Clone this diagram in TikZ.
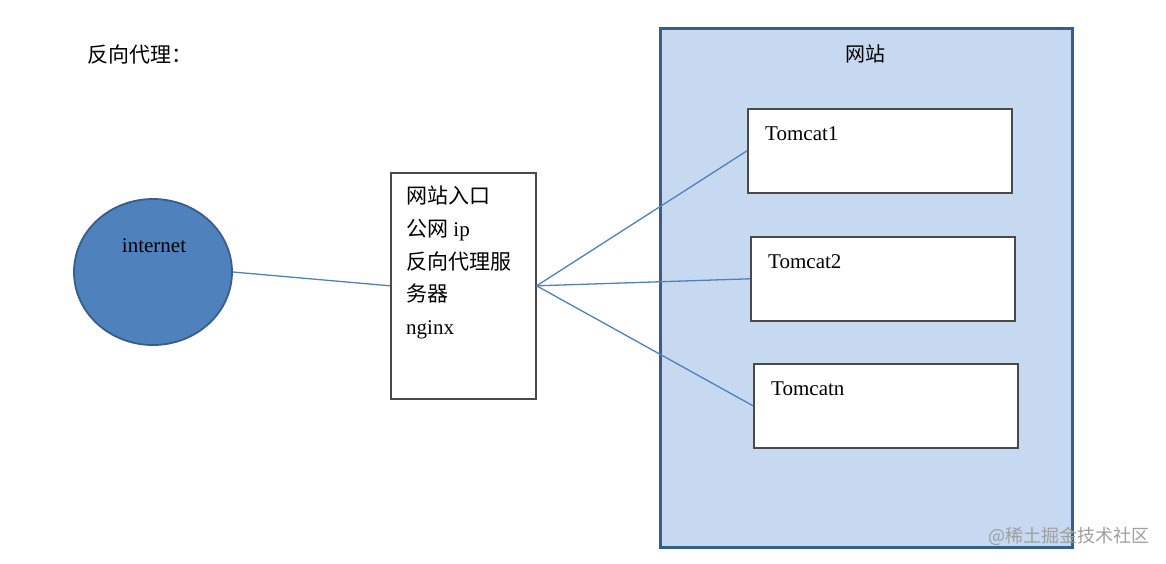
\documentclass[tikz,border=0pt]{standalone}
\usepackage{fontspec}
\setmainfont{Liberation Serif}
\newfontfamily\cjk{Noto Sans CJK SC}
\usetikzlibrary{shapes.geometric}
\definecolor{azul}{HTML}{4F81BD}
\definecolor{azulescuro}{HTML}{385D8A}
\definecolor{azulclaro}{HTML}{C6D9F1}
\definecolor{borda}{HTML}{4A4A4A}

\begin{document}
\begin{tikzpicture}[
  x=1pt, y=-1pt,
  every node/.style={inner sep=0pt, font=\fontsize{21}{25}\selectfont},
  ligacao/.style={draw=azul, line width=1.3pt}
]
\tikzset{
  caixa/.style={draw=borda, line width=1.6pt, fill=white, anchor=north west},
  tomcat/.style={caixa, minimum width=264pt, minimum height=84pt},
  rotulo/.style={anchor=base west}
}
\useasboundingbox (0,0) rectangle (1166,563);
\node[rotulo] (titulo) at (87,62) {\cjk 反向代理：};
% area do site
\node[draw=azulescuro, line width=3.2pt, fill=azulclaro, anchor=north west,
  minimum width=412pt, minimum height=519pt] (site) at (659,27) {};
\node[anchor=base, font=\fontsize{20}{24}\selectfont] (sitel) at (865,61) {\cjk 网站};
% cliente
\node[ellipse, draw=azulescuro, line width=1.8pt, fill=azul,
  minimum width=158pt, minimum height=146pt] (net) at (153,272) {};
\node[anchor=base] (netl) at (154,252) {internet};
% proxy
\node[caixa, minimum width=145pt, minimum height=226pt] (nginx) at (390,172) {};
\node[anchor=north west, align=left, font=\fontsize{21}{32.7}\selectfont] (nginxl) at (406,186)
  {{\cjk 网站入口}\\{\cjk 公网} ip\\{\cjk 反向代理服}\\{\cjk 务器}\\nginx};
% servidores
\node[tomcat] (tc1) at (747,108) {};
\node[tomcat] (tc2) at (750,236) {};
\node[tomcat] (tcn) at (753,363) {};
\node[rotulo] (tc1l) at ([xshift=18pt,yshift=-32.5pt]tc1.north west) {Tomcat1};
\node[rotulo] (tc2l) at ([xshift=18pt,yshift=-32.5pt]tc2.north west) {Tomcat2};
\node[rotulo] (tcnl) at ([xshift=18pt,yshift=-32.5pt]tcn.north west) {Tomcatn};
% ligacoes
\draw[ligacao] (net.east) -- (nginx.west);
\draw[ligacao] (nginx.east) -- (tc1.west);
\draw[ligacao] (nginx.east) -- (tc2.west);
\draw[ligacao] (nginx.east) -- (tcn.west);
\node[rotulo, text=gray!75, font=\cjk\fontsize{18}{18}\selectfont] (marca) at (988,542) {@稀土掘金技术社区};
\end{tikzpicture}
\end{document}
